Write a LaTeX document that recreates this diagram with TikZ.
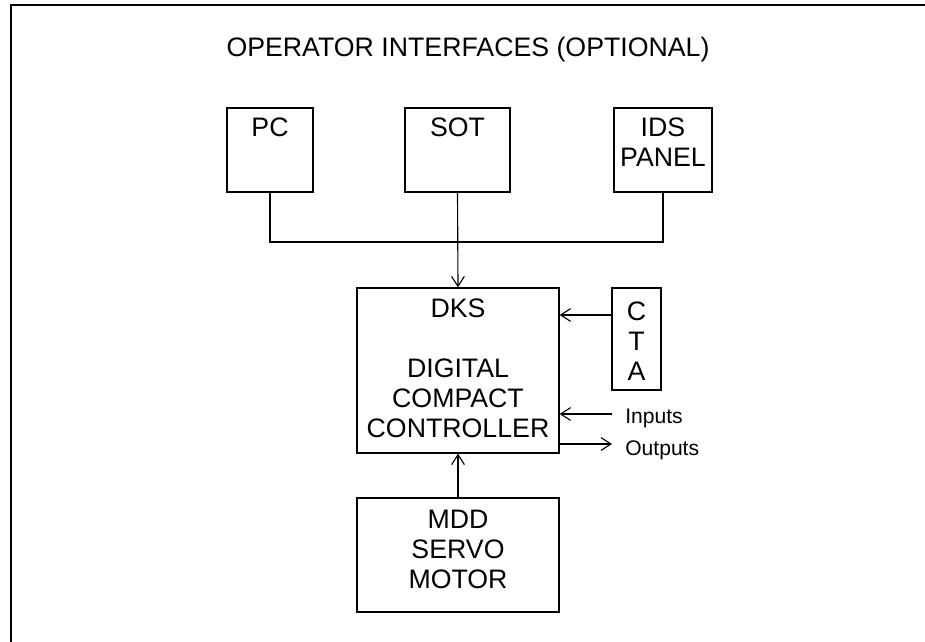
\documentclass[tikz,border=0pt]{standalone}
\usepackage{fontspec}
\setmainfont{Liberation Sans}
\usetikzlibrary{arrows.meta}
\usetikzlibrary{positioning}

\tikzset{
  box/.style={draw, thick, inner sep=0pt},
  boxtext/.style={anchor=north, inner sep=0pt, align=center, font=\fontsize{19pt}{21.3pt}\selectfont},
  sidetext/.style={anchor=base west, inner sep=0pt, font=\fontsize{15pt}{18pt}\selectfont}
}

\begin{document}
\begin{tikzpicture}[x=0.025cm, y=-0.025cm, >={Straight Barb[length=2.5mm,width=3.2mm]}]
\useasboundingbox (0,0) rectangle (925,642);
\draw[line width=1.5pt] (11,642) -- (11,5) -- (925,5);

\node (title)[anchor=base, inner sep=0pt, font=\fontsize{19pt}{21.3pt}\selectfont] at (468,57) {OPERATOR INTERFACES (OPTIONAL)};

\node (pc)[box, minimum width=2.15cm, minimum height=2.1cm] at (270,150) {};
\node (sot)[box, minimum width=2.625cm, minimum height=2.1cm] at (457.5,150) {};
\node (ids)[box, minimum width=2.45cm, minimum height=2.1cm] at (663,150) {};
\node (dks)[box, minimum width=5.05cm, minimum height=4.125cm] at (458,370.5) {};
\node (cta)[box, minimum width=1.225cm, minimum height=2.55cm] at (636.5,339) {};
\node (mdd)[box, minimum width=5.05cm, minimum height=2.85cm] at (458,555) {};

\node (pctext)[boxtext] at (270,118) {PC};
\node (sottext)[boxtext] at (457.5,118) {SOT};
\node (idstext)[boxtext] at (663,118) {IDS\\PANEL};
\node (dkstext)[boxtext] at (458,299) {DKS\\ \\DIGITAL\\COMPACT\\CONTROLLER};
\node (ctatext)[boxtext] at (636.5,302) {C\\T\\A};
\node (mddtext)[boxtext] at (458,510) {MDD\\SERVO\\MOTOR};

\node (inputs)[sidetext] at (625,423) {Inputs};
\node (outputs)[sidetext] at (625,455) {Outputs};

\coordinate (bus) at (457.5,242);
\coordinate (ctaout) at (612,315);
\coordinate (in) at (612,414);
\coordinate (out) at (612,444);

\draw[thick] (pc.south) |- (bus) -| (ids.south);
\draw[->, thick] (sot.south) -- (dks.north);
\draw[->, thick] (cta.west |- ctaout) -- (dks.east |- ctaout);
\draw[->, thick] (in) -- (dks.east |- in);
\draw[->, thick] (dks.east |- out) -- (out);
\draw[->, thick] (mdd.north) -- (dks.south);
\end{tikzpicture}
\end{document}
